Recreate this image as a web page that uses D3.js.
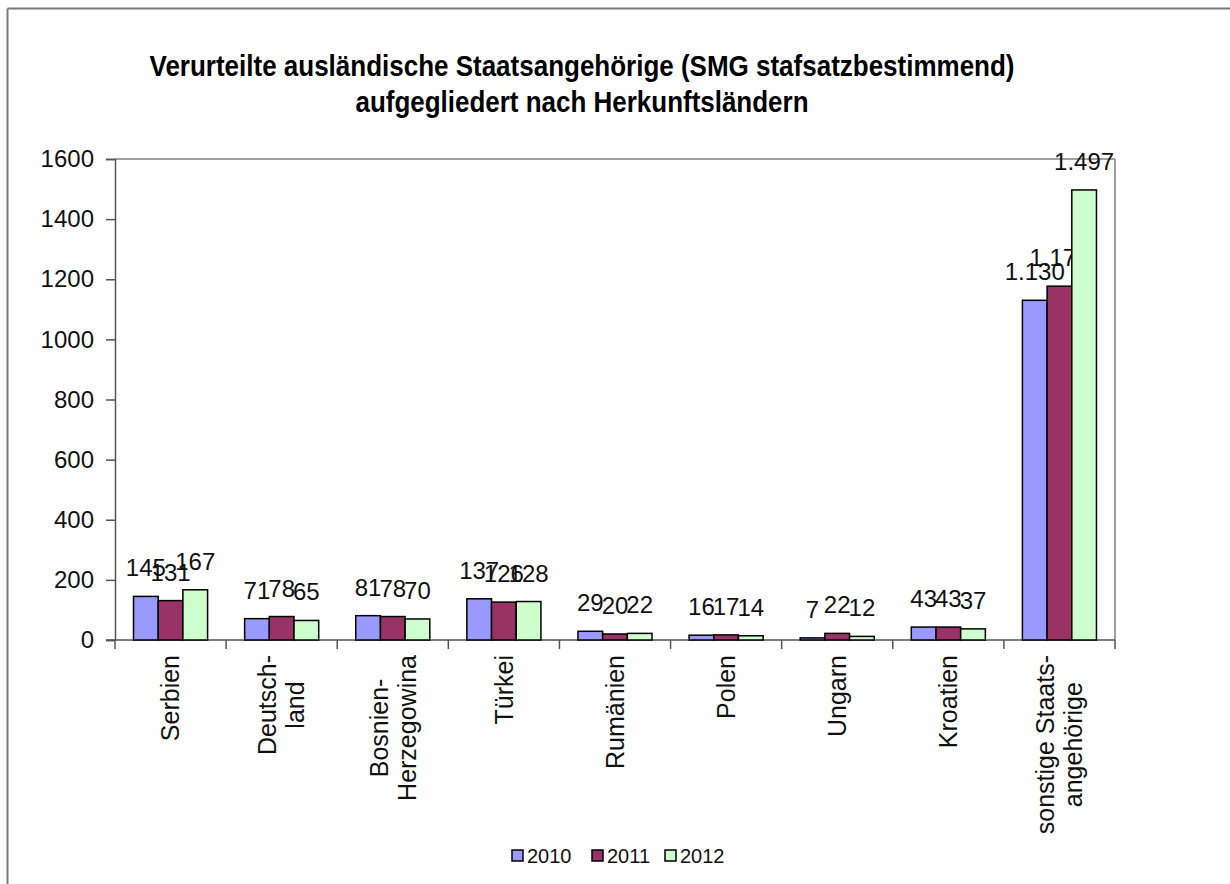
<!DOCTYPE html>
<html>
<head>
<meta charset="utf-8">
<script src="https://cdn.jsdelivr.net/npm/d3@7"></script>
<style>
  html, body { margin: 0; padding: 0; background: #fff; }
  svg { display: block; }
</style>
</head>
<body>
<svg id="chart" width="1230" height="884"></svg>
<script>
const titleLines = ["Verurteilte ausländische Staatsangehörige (SMG stafsatzbestimmend)", "aufgegliedert nach Herkunftsländern"];
const categories = ["Serbien", "Deutsch-\nland", "Bosnien-\nHerzegowina", "Türkei", "Rumänien", "Polen", "Ungarn", "Kroatien", "sonstige Staats-\nangehörige"];
const years = ["2010", "2011", "2012"];
const values2010 = [145, 71, 81, 137, 29, 16, 7, 43, 1130];
const values2011 = [131, 78, 78, 126, 20, 17, 22, 43, 1177];
const values2012 = [167, 65, 70, 128, 22, 14, 12, 37, 1497];
const yTicks = [0, 200, 400, 600, 800, 1000, 1200, 1400, 1600];
const colors = ["#9999FF", "#993366", "#CCFFCC"];

(function () {
const series = [values2010, values2011, values2012];
const svg = d3.select("#chart");
const font = "'Liberation Sans', Arial, sans-serif";

// outer frame (top & left edges visible)
svg.append("line").attr("x1", 7.5).attr("x2", 1230).attr("y1", 8.5).attr("y2", 8.5)
  .attr("stroke", "#7a7a7a").attr("stroke-width", 2);
svg.append("line").attr("x1", 7.5).attr("x2", 7.5).attr("y1", 8.5).attr("y2", 884)
  .attr("stroke", "#7a7a7a").attr("stroke-width", 2);

// title
const titleY = [76, 112];
const titleW = [865, 453];
titleLines.forEach((t, i) => {
  svg.append("text")
    .attr("x", 582).attr("y", titleY[i])
    .attr("text-anchor", "middle")
    .attr("font-family", "'Liberation Sans Narrow', 'Arial Narrow', 'Liberation Sans', Arial, sans-serif")
    .attr("font-weight", "bold")
    .attr("font-size", 30)
    .attr("textLength", titleW[i])
    .attr("lengthAdjust", "spacingAndGlyphs")
    .attr("fill", "#000")
    .text(t);
});

const pLeft = 115, pRight = 1115, pTop = 159, pBottom = 640;
const x0 = d3.scaleBand().domain(d3.range(categories.length)).range([pLeft, pRight]);
const bw = x0.bandwidth();
const barW = bw / 4.5;
const x1 = d3.scaleBand().domain(d3.range(years.length)).range([barW * 0.75, bw - barW * 0.75]);
const y = d3.scaleLinear().domain([0, 1600]).range([pBottom, pTop]);

// plot frame top & right
svg.append("line").attr("x1", pLeft).attr("x2", pRight).attr("y1", pTop).attr("y2", pTop)
  .attr("stroke", "#808080").attr("stroke-width", 1.5);
svg.append("line").attr("x1", pRight).attr("x2", pRight).attr("y1", pTop).attr("y2", pBottom)
  .attr("stroke", "#808080").attr("stroke-width", 1.5);

// y axis
const yAxis = svg.append("g").attr("transform", `translate(${pLeft},0)`)
  .call(d3.axisLeft(y).tickValues(yTicks).tickSize(9).tickPadding(12).tickFormat(d3.format("d")));
yAxis.selectAll("path, line").attr("stroke", "#555").attr("stroke-width", 1.5);
yAxis.selectAll("text").attr("font-family", font).attr("font-size", 24).attr("fill", "#111");

// x axis baseline and between-category ticks
const xAxisG = svg.append("g");
xAxisG.append("line").attr("x1", pLeft - 9).attr("x2", pRight).attr("y1", pBottom).attr("y2", pBottom)
  .attr("stroke", "#555").attr("stroke-width", 1.5);
d3.range(categories.length + 1).forEach(i => {
  const xx = pLeft + i * bw;
  xAxisG.append("line").attr("x1", xx).attr("x2", xx).attr("y1", pBottom).attr("y2", pBottom + 9)
    .attr("stroke", "#555").attr("stroke-width", 1.5);
});

// bars
const deLocale = d3.formatLocale({decimal: ",", thousands: ".", grouping: [3], currency: ["", " €"]});
const fmt = deLocale.format(",d");
series.forEach((vals, s) => {
  const g = svg.append("g");
  g.selectAll("rect").data(vals).join("rect")
    .attr("x", (d, i) => x0(i) + x1(s))
    .attr("y", d => y(d))
    .attr("width", x1.bandwidth())
    .attr("height", d => y(0) - y(d))
    .attr("fill", colors[s])
    .attr("stroke", "#000")
    .attr("stroke-width", 1.5);
  g.selectAll("text").data(vals).join("text")
    .attr("x", (d, i) => x0(i) + x1(s) + x1.bandwidth() / 2)
    .attr("y", d => y(d) - 20)
    .attr("text-anchor", "middle")
    .attr("font-family", font)
    .attr("font-size", 24)
    .attr("fill", "#111")
    .text(d => fmt(d));
});

// category labels (rotated)
categories.forEach((c, i) => {
  const lines = c.split("\n");
  const cx = x0(i) + bw / 2;
  const g = svg.append("g").attr("transform", `translate(${cx},655) rotate(-90)`);
  const texts = lines.map((ln, j) => g.append("text")
    .attr("y", (j - (lines.length - 1) / 2) * 28)
    .attr("dy", "0.35em")
    .attr("text-anchor", "middle")
    .attr("font-family", font)
    .attr("font-size", 25)
    .attr("fill", "#111")
    .text(ln));
  const maxW = d3.max(texts, t => t.node().getComputedTextLength());
  texts.forEach(t => t.attr("x", -maxW / 2));
});

// legend
const legX = [512, 592, 665];
years.forEach((yr, i) => {
  svg.append("rect").attr("x", legX[i]).attr("y", 850).attr("width", 11).attr("height", 11)
    .attr("fill", colors[i]).attr("stroke", "#000").attr("stroke-width", 1.5);
  svg.append("text").attr("x", legX[i] + 15).attr("y", 863)
    .attr("font-family", font).attr("font-size", 20).attr("fill", "#111").text(yr);
});
})();
</script>
</body>
</html>
